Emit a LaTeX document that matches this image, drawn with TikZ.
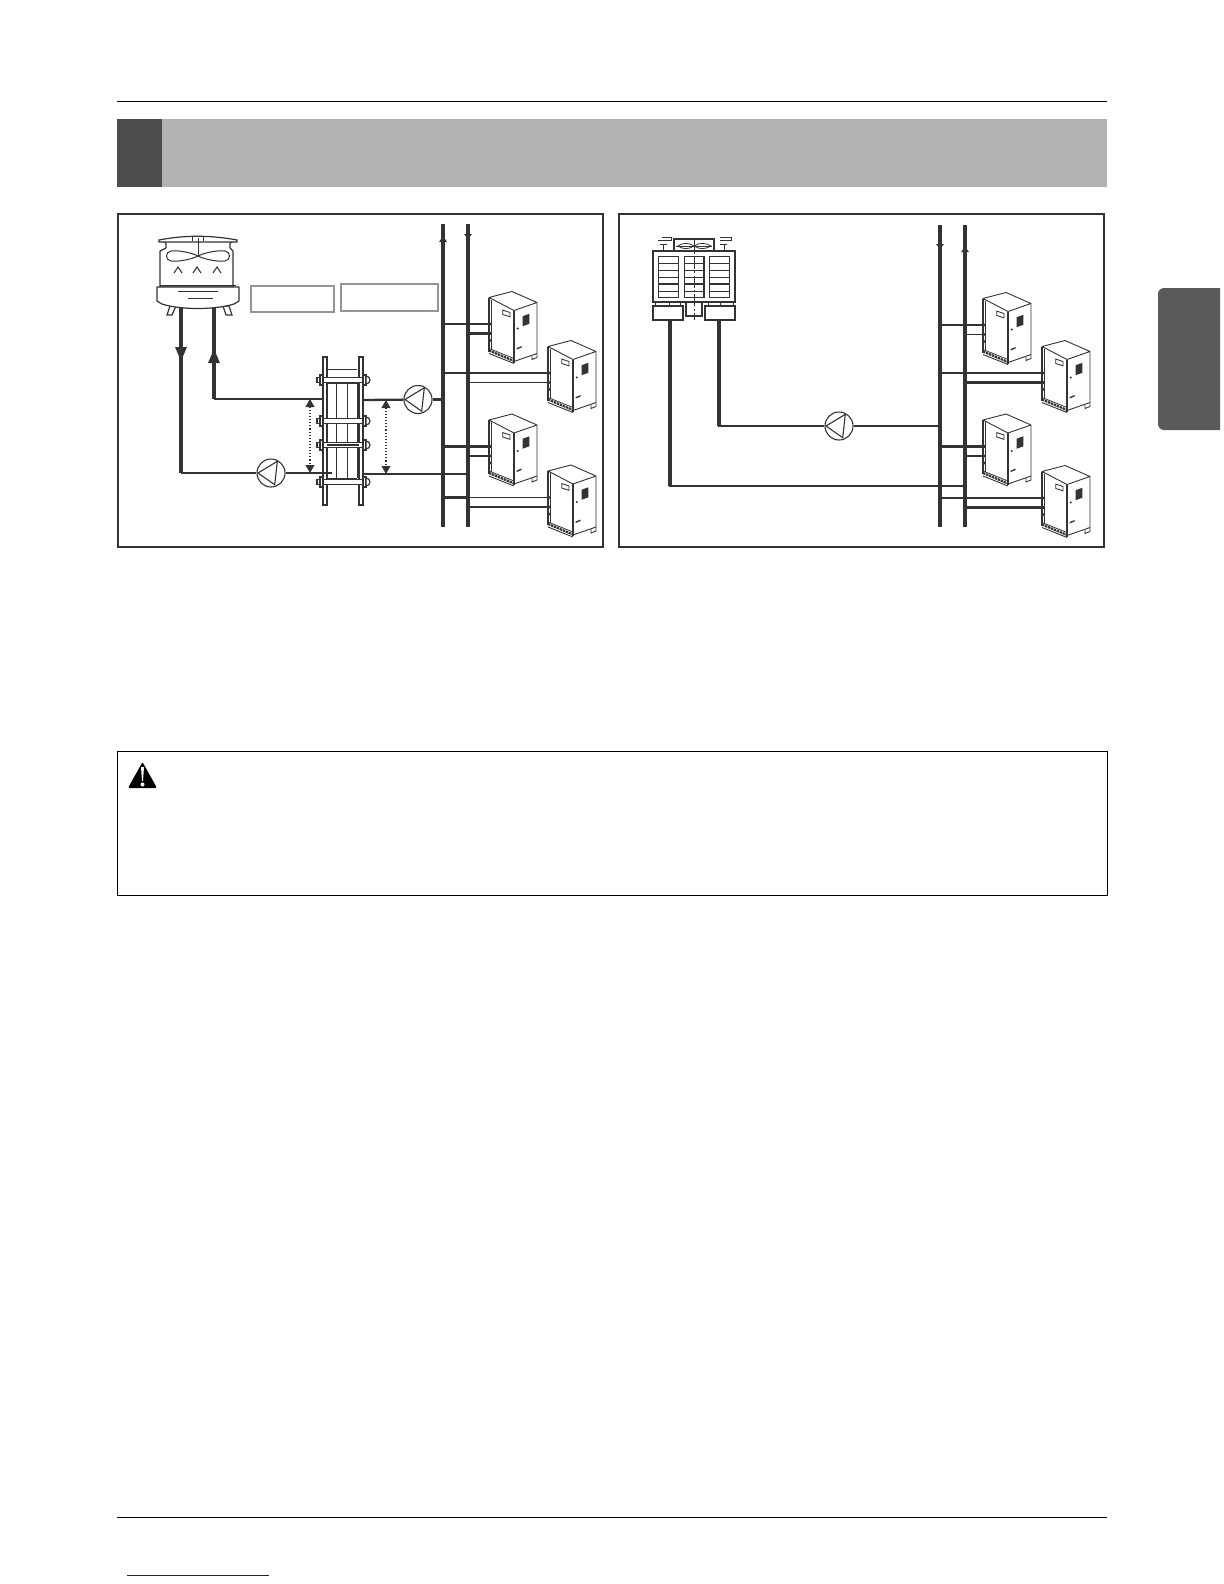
\documentclass[tikz,border=0pt]{standalone}
\usepackage{amsmath}
\usetikzlibrary{positioning,arrows.meta,calc}
\definecolor{linedark}{HTML}{333333}
\definecolor{bandgray}{HTML}{B2B2B2}
\definecolor{banddark}{HTML}{4D4D4D}
\definecolor{tabgray}{HTML}{5A5A5A}
\definecolor{labelgray}{HTML}{8F979C}
\definecolor{linkblue}{HTML}{1A1A80}

\begin{document}
\begin{tikzpicture}[
  x=0.5pt, y=-0.5pt,
  frame/.style={draw=linedark, line width=1.2pt},
  labelbox/.style={draw=labelgray, line width=0.8pt},
  fatpipe/.style={draw=linedark, line width=1.7pt},
  midpipe/.style={draw=linedark, line width=1.15pt},
  thinpipe/.style={draw=linedark, line width=0.6pt},
  outline/.style={draw=linedark, line width=0.6pt, fill=white},
  dimarrow/.style={draw=linedark, line width=0.55pt, densely dotted,
    {Triangle[length=4pt,width=4.4pt]}-{Triangle[length=4pt,width=4.4pt]}, linedark},
  pump/.style={circle, draw=linedark, line width=0.55pt, minimum size=14pt, inner sep=0pt,
    path picture={
      \draw[linedark, line width=0.55pt, shift={(path picture bounding box.center)}]
        (-13,0) -- (6.3,-11.7) -- (3.7,11.7) -- cycle;
    }},
  plate/.style={draw=linedark, line width=0.55pt, fill=white, minimum width=2pt, inner sep=0pt},
  vrfunit/.pic={
    \fill[white] (0,0) -- (23,-6) -- (48,5) -- (48,56) -- (25,64) -- (0,54) -- cycle;
    \draw[linedark, line width=0.45pt, line join=round]
      (0,0) -- (23,-6) -- (48,5) -- (25,13) -- cycle;
    \draw[linedark, line width=0.45pt] (48,5) -- (48,56) -- (25,64);
    \draw[linedark, line width=0.8pt] (25,13) -- (25,65);
    \draw[linedark, line width=0.7pt] (0,0) -- (0,54);
    \draw[linedark, line width=0.3pt] (2,2) -- (2,52);
    % door plate + grille
    \draw[linedark, line width=0.45pt] (13.7,12.6) -- (21,15) -- (21,19.3) -- (13.7,17) -- cycle;
    \fill[linedark] (33.7,18.7) -- (40.3,16.3) -- (40.3,26.3) -- (33.7,28.7) -- cycle;
    \fill[linedark] (28.7,31) circle (0.6pt);
    \fill[linedark] (27.7,50.5) -- (32.7,48.5) -- (32.7,50) -- (27.7,52) -- cycle;
    % base
    \draw[linedark, line width=0.4pt] (0,51) -- (25,61);
    \draw[linedark, line width=1.1pt, dash pattern=on 1.2pt off 0.4pt] (0,53) -- (25,63.5);
    \draw[linedark, line width=0.45pt] (0,56) -- (25,66);
    \draw[linedark, line width=0.45pt] (43,58) -- (43,62) -- (48,60) -- (48,56);
    % ports
    \coordinate (-p1) at (1.5,26.5);
    \coordinate (-p2) at (1.5,36);
    \foreach \py in {26.5,36,43} {\fill[linedark] (1,\py) circle (0.8pt);}
  }
]
  \useasboundingbox (0,0) rectangle (1224,1584);

  % page furniture
  \draw[line width=0.45pt] (117,101) -- (1107,101);
  \fill[bandgray] (117,119) rectangle (1107,187);
  \fill[banddark] (117,119) rectangle (162,187);
  \fill[tabgray] (1220,288) -- (1164,288) to[out=180,in=90] (1158,294) -- (1158,424)
    to[out=-90,in=180] (1164,430) -- (1220,430) -- cycle;
  \draw[line width=0.45pt] (117,1517) -- (1107,1517);
  \draw[linkblue, line width=0.5pt] (127,1575) -- (269,1575);

  % the two frames
  \draw[frame] (118,214) rectangle (603,547);
  \draw[frame] (619,214) rectangle (1104,547);

  % empty label boxes
  \draw[labelbox] (251,286) rectangle (334,312);
  \draw[labelbox] (341,284) rectangle (438,311);

  % --- cooling tower
  \draw[outline, line join=round] (160,251) -- (166,248) -- (166,243) -- (162,241) -- (234,241)
    -- (230,243) -- (230,248) -- (233,251) -- (233,287) -- (160,287) -- cycle;
  \draw[outline] (159,240) .. controls (185,235) and (210,235) .. (237,240)
    -- (237,242) -- (159,242) -- cycle;
  \draw[linedark, line width=0.4pt] (192,237) -- (192,241) (203,237) -- (203,241);
  \draw[linedark, line width=0.5pt] (198,238) -- (198,256);
  \draw[linedark, line width=0.5pt] (198,256) .. controls (190,252) and (176,250) .. (171,251)
    .. controls (165,252) and (165,260) .. (171,261) .. controls (176,262) and (190,260) .. (198,256)
    .. controls (206,252) and (220,250) .. (225,251) .. controls (231,252) and (231,260) .. (225,261)
    .. controls (220,262) and (206,260) .. (198,256);
  \foreach \cx in {178,197,217} {
    \draw[linedark, line width=0.5pt] (\cx-4,273) -- (\cx,267) -- (\cx+4,273);
  }
  \draw[outline] (170,306) -- (176,306) -- (172,315) -- (167,315) -- cycle;
  \draw[outline] (223,306) -- (229,306) -- (232,315) -- (226,315) -- cycle;
  \draw[outline, line join=round] (157,287) -- (239,287) -- (239,301) -- (234,304)
    .. controls (215,310) and (180,310) .. (162,304) -- (157,301) -- cycle;
  \draw[linedark, line width=0.5pt] (160,285) -- (236,285);
  \draw[linedark, line width=0.5pt] (178,291) -- (218,291);
  \draw[linedark, line width=0.5pt] (188,298) -- (213,298);
  \coordinate (towerL) at (181,308);
  \coordinate (towerR) at (214,308);

  % --- plate heat exchanger
  \node[plate, minimum height=74pt] (hxL) at (325,431) {};
  \node[plate, minimum height=74pt] (hxR) at (361,431) {};
  \draw[linedark, line width=0.5pt] (328,369) -- (357,369);
  \draw[linedark, line width=0.5pt] (327,383) -- (357,383) (327,478) -- (357,478);
  \foreach \lx in {336,347,357} {\draw[linedark, line width=0.5pt] (\lx,383) -- (\lx,478);}
  \foreach \by in {380,421,445,482} {
    \draw[outline] (323,\by-2.5) rectangle (363,\by+2.5);
    \draw[outline] (317,\by-2.5) rectangle (320,\by+2.5);
    \draw[outline] (320,\by-5) rectangle (323,\by+5);
    \draw[outline] (363,\by-5) rectangle (366,\by+5);
    \draw[outline] (366,\by-4) arc[start angle=-90,end angle=90,radius=4] -- cycle;
  }
  \draw[linedark, line width=1pt] (327,445) -- (359,445);

  % --- pumps
  \node[pump] (pumpA) at (271,473) {};
  \node[pump] (pumpB) at (418,399.5) {};
  \node[pump] (pumpC) at (839,426) {};

  % --- left risers
  \coordinate (colAt) at (443,224);
  \coordinate (colAb) at (443,527);
  \coordinate (colBt) at (468,224);
  \coordinate (colBb) at (468,527);
  \draw[linedark, line width=2pt] (colAt) -- (colAb);
  \draw[linedark, line width=1.6pt] (colBt) -- (colBb);
  \fill[linedark] (443,236) -- (447,242) -- (439,242) -- cycle;
  \fill[linedark] (468,239) -- (472,234) -- (464,234) -- cycle;

  % tower loop
  \draw[fatpipe] (towerL) -- (towerL |- pumpA);
  \draw[midpipe] (181,473) -- (pumpA);
  \draw[midpipe] (pumpA) -- (332,473);
  \draw[fatpipe] (towerR) -- (214,399);
  \draw[midpipe] (213.5,399) -- (hxL.west |- 0,399);
  \fill[linedark] (181,361) -- (175,347) -- (187,347) -- cycle;
  \fill[linedark] (214,349) -- (220,363) -- (208,363) -- cycle;
  \draw[dimarrow] (310,399) -- (310,473);

  % riser side of the exchanger
  \draw[midpipe] (hxR.east |- 0,400) -- (pumpB);
  \draw[midpipe] (pumpB) -- (colAt |- pumpB);
  \draw[midpipe] (hxR.east |- 0,474) -- (colBt |- 0,474);
  \draw[dimarrow] (386,400) -- (386,474);

  % units on the left riser
  \pic (ua) at (489,297.5) {vrfunit};
  \pic (ub) at (548,346.5) {vrfunit};
  \pic (uc) at (489,420) {vrfunit};
  \pic (ud) at (548,471) {vrfunit};
  \foreach \u in {ua,uc} {
    \draw[midpipe] (colAt |- \u-p1) -- (\u-p1);
    \draw[midpipe] (colBt |- \u-p2) -- (\u-p2);
  }
  \foreach \u in {ub,ud} {
    \draw[midpipe] (colAt |- \u-p1) -- (colBt |- \u-p1);
    \draw[thinpipe] (colBt |- \u-p1) -- (\u-p1);
    \draw[thinpipe] (colBt |- \u-p2) -- (\u-p2);
  }

  % --- modular chiller
  \draw[outline, line width=0.7pt] (674,239) rectangle (714,251);
  \draw[outline, line width=0.7pt] (653,251) rectangle (735,302);
  \foreach \px in {658,684,709} {
    \draw[linedark, line width=0.5pt] (\px,256) rectangle (\px+20,297);
    \foreach \ry in {263,270,277,291} {\draw[linedark, line width=0.5pt] (\px,\ry) -- (\px+20,\ry);}
    \draw[linedark, line width=0.9pt] (\px,284) -- (\px+20,284);
  }
  \draw[linedark, line width=0.9pt] (704,256) -- (704,297);
  % fan glyph
  \draw[linedark, line width=0.4pt] (694,246) .. controls (688,242) and (682,243) .. (678,246)
    .. controls (682,249) and (688,250) .. (694,246) .. controls (700,242) and (706,243) .. (711,246)
    .. controls (706,249) and (700,250) .. (694,246);
  \draw[linedark, line width=0.4pt] (676,246) -- (712,246);
  % vents, mirrored about the axis
  \draw[linedark, line width=0.45pt] (663,251) -- (663,244) (660,244) -- (667,244)
    (658,240) -- (671,240) -- (671,237) -- (662,237);
  \draw[linedark, line width=0.45pt] (724,251) -- (724,244) (720,244) -- (727,244)
    (720,240) -- (731,240) -- (731,237) -- (720,237);
  % lower boxes
  \foreach \sx in {655,669,680,708,720,733} {\draw[linedark, line width=0.5pt] (\sx,302) -- (\sx,306);}
  \draw[outline, line width=0.7pt] (686,302) rectangle (702,316);
  \node[draw=linedark, line width=0.7pt, fill=white, minimum width=15pt, minimum height=7pt, inner sep=0pt] (chillL) at (668,313) {};
  \node[draw=linedark, line width=0.7pt, fill=white, minimum width=15pt, minimum height=7pt, inner sep=0pt] (chillR) at (720,313) {};
  \draw[linedark, line width=0.5pt, dash pattern=on 6pt off 1.2pt on 1pt off 1.2pt] (694,238) -- (694,320);

  % --- right risers
  \coordinate (colCt) at (940,225);
  \coordinate (colCb) at (940,527);
  \coordinate (colDt) at (965,225);
  \coordinate (colDb) at (965,527);
  \draw[linedark, line width=2pt] (colCt) -- (colCb);
  \draw[linedark, line width=1.6pt] (colDt) -- (colDb);
  \fill[linedark] (940,249) -- (944,244) -- (936,244) -- cycle;
  \fill[linedark] (965,247) -- (969,252) -- (961,252) -- cycle;

  % chiller loop
  \draw[fatpipe] (chillR.south -| 719,0) -- (719,426);
  \draw[fatpipe, line width=1.35pt] (718.2,426) -- (pumpC);
  \draw[fatpipe, line width=1.35pt] (pumpC) -- (colCt |- pumpC);
  \draw[fatpipe] (chillL.south -| 670,0) -- (670,486);
  \draw[fatpipe, line width=1.35pt] (669.2,486) -- (colDt |- 0,486);

  % units on the right riser
  \pic (ue) at (983,298.5) {vrfunit};
  \pic (uf) at (1042,346.5) {vrfunit};
  \pic (ug) at (983,420) {vrfunit};
  \pic (uh) at (1042,471.5) {vrfunit};
  \draw[thinpipe] (colCt |- ue-p1) -- (ue-p1);
  \draw[thinpipe] (colDt |- ue-p2) -- (ue-p2);
  \draw[midpipe] (colCt |- ug-p1) -- (ug-p1);
  \draw[thinpipe] (colDt |- ug-p2) -- (ug-p2);
  \foreach \u in {uf,uh} {
    \draw[thinpipe] (colCt |- \u-p1) -- (colDt |- \u-p1);
    \draw[midpipe] (colDt |- \u-p1) -- (\u-p1);
    \draw[midpipe] (colDt |- \u-p2) -- (\u-p2);
  }

  % --- caution box
  \draw[line width=0.45pt] (117,751) rectangle (1107,895);
  \fill[black, rounded corners=1pt] (142.5,762) -- (157,788) -- (128,788) -- cycle;
  \fill[white] (141,767) -- (144,767) -- (143,781) -- (142,781) -- cycle;
  \fill[white] (142.5,784.5) circle (1pt);
\end{tikzpicture}
\end{document}
